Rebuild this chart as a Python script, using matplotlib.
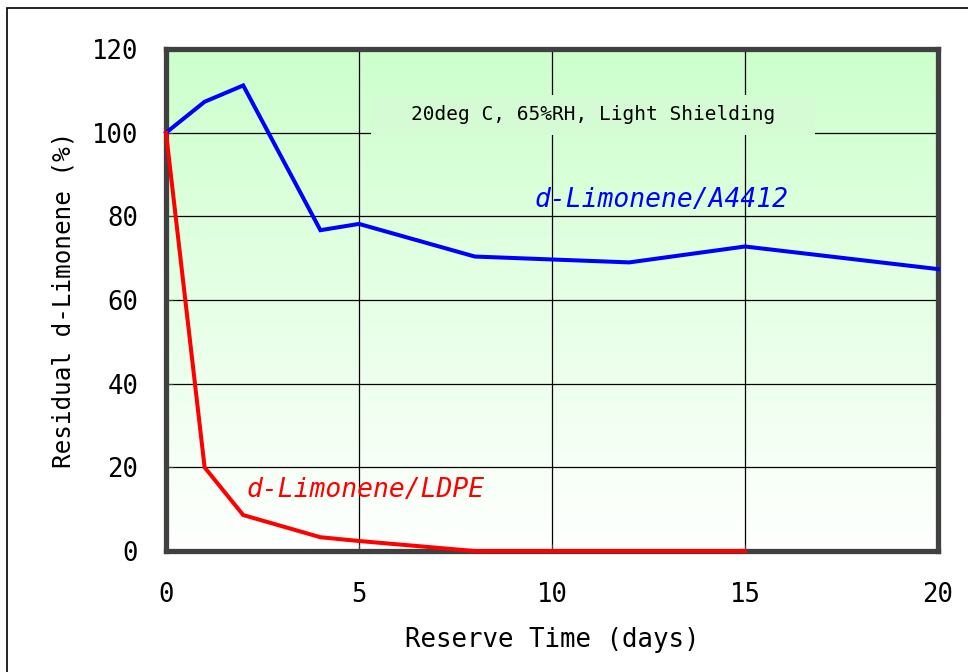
import numpy as np
import matplotlib.pyplot as plt
from matplotlib.colors import LinearSegmentedColormap
from matplotlib.patches import Rectangle

# data
days_a4412 = [0, 1, 2, 4, 5, 8, 12, 15, 20]
resid_a4412 = [100, 107.4, 111.3, 76.7, 78.2, 70.4, 69.0, 72.8, 67.4]
days_ldpe = [0, 1, 2, 4, 5, 8, 12, 15]
resid_ldpe = [100, 20.0, 8.6, 3.3, 2.4, 0, 0, 0]
x_ticks = [0, 5, 10, 15, 20]
y_ticks = [0, 20, 40, 60, 80, 100, 120]

plt.rcParams['font.family'] = ['DejaVu Sans Mono', 'DejaVu Sans']

fig = plt.figure(figsize=(9.68, 6.72), dpi=100)
ax = fig.add_axes([0.1715, 0.180, 0.7975, 0.747])

# outer figure border
fig.patches.append(Rectangle((7 / 968, -0.01), 1.0, 1 - 8 / 672 + 0.01,
                             transform=fig.transFigure, fill=False,
                             edgecolor='black', lw=1.2))

# green -> white gradient background
cmap = LinearSegmentedColormap.from_list('g', ['#ffffff', '#ccffcc'])
grad = np.linspace(0, 1, 256).reshape(-1, 1)
ax.imshow(grad, aspect='auto', cmap=cmap, origin='lower',
          extent=[0, 1, 0, 1], transform=ax.transAxes, zorder=0)

ax.set_xlim(0, 20)
ax.set_ylim(0, 120)
ax.set_xticks(x_ticks)
ax.set_yticks(y_ticks)
ax.grid(True, color='black', lw=0.9)
ax.set_axisbelow(True)
ax.tick_params(direction='in', length=5, labelsize=18.5, color='#404040')
ax.tick_params(axis='x', pad=22)
ax.tick_params(axis='y', pad=20)

for s in ax.spines.values():
    s.set_linewidth(3.8)
    s.set_color('#404040')

ax.plot(days_a4412, resid_a4412, color='#0000ff', lw=2.9, zorder=3,
        solid_joinstyle='miter', clip_on=False)
ax.plot(days_ldpe, resid_ldpe, color='#ff0000', lw=2.9, zorder=3,
        solid_joinstyle='miter', clip_on=False)

# condition box
ax.add_patch(Rectangle((0.2655, 0.8287), 0.5752, 0.0793, transform=ax.transAxes,
                       fc='#d4fbd4', ec='none', zorder=2))
ax.text(0.553, 0.869, '20deg C, 65%RH, Light Shielding', transform=ax.transAxes,
        ha='center', va='center', fontsize=14, color='black', zorder=4)
ax.text(0.477, 0.699, 'd-Limonene/A4412', transform=ax.transAxes,
        fontsize=19, color='#0000ff', style='italic', va='center', zorder=4)
ax.text(0.1036, 0.1215, 'd-Limonene/LDPE', transform=ax.transAxes,
        fontsize=19, color='#ff0000', style='italic', va='center', zorder=4)

ax.set_xlabel('Reserve Time (days)', fontsize=18.5, labelpad=14)
ax.set_ylabel('Residual d-Limonene (%)', fontsize=17.5, labelpad=12)

fig.savefig('out.png', dpi=100)
